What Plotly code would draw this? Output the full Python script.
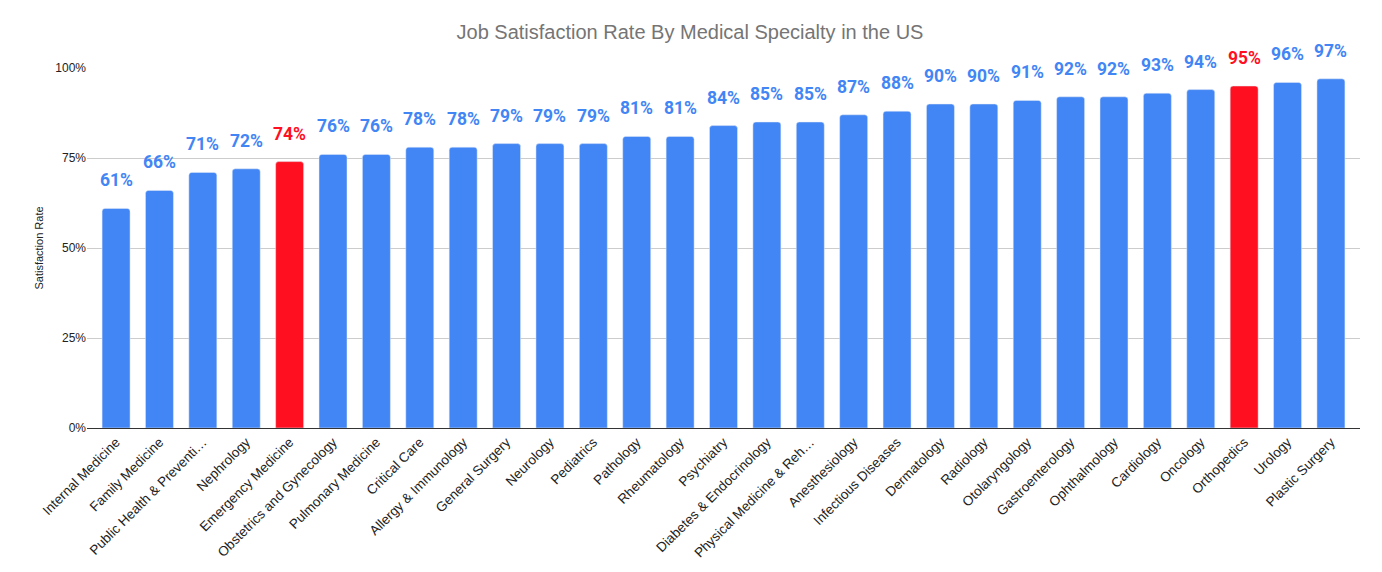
import plotly.graph_objects as go

specialties = ["Internal Medicine", "Family Medicine", "Public Health & Preventi…", "Nephrology",
               "Emergency Medicine", "Obstetrics and Gynecology", "Pulmonary Medicine", "Critical Care",
               "Allergy & Immunology", "General Surgery", "Neurology", "Pediatrics", "Pathology",
               "Rheumatology", "Psychiatry", "Diabetes & Endocrinology", "Physical Medicine & Reh…",
               "Anesthesiology", "Infectious Diseases", "Dermatology", "Radiology", "Otolaryngology",
               "Gastroenterology", "Ophthalmology", "Cardiology", "Oncology", "Orthopedics", "Urology",
               "Plastic Surgery"]
rates = [61, 66, 71, 72, 74, 76, 76, 78, 78, 79, 79, 79, 81, 81, 84, 85, 85, 87, 88, 90, 90, 91,
         92, 92, 93, 94, 95, 96, 97]
highlight = ["Emergency Medicine", "Orthopedics"]
y_ticks = [0, 25, 50, 75, 100]
y_tick_labels = ["0%", "25%", "50%", "75%", "100%"]

BLUE = "#4285F4"
RED = "#FF0F1F"
colors = [RED if s in highlight else BLUE for s in specialties]

fig = go.Figure(go.Bar(x=specialties, y=rates, marker=dict(color=colors, cornerradius=3),
                       hoverinfo="x+y"))

for s, r, c in zip(specialties, rates, colors):
    fig.add_annotation(x=s, y=r, text=f"{r}%", showarrow=False, yanchor="middle", yshift=28,
                       font=dict(family="Roboto", size=17.5, color=c, weight="bold"))

fig.update_layout(
    width=1374, height=564,
    margin=dict(l=79, r=22, t=60, b=140),
    plot_bgcolor="white", paper_bgcolor="white",
    bargap=0.355,
    showlegend=False,
    title=dict(text="Job Satisfaction Rate By Medical Specialty in the US", x=682 / 1374, xref="container",
               xanchor="center", y=1 - 24 / 564, yanchor="middle",
               font=dict(family="Liberation Sans, Arial", size=20, color="#757575")),
    font=dict(family="Liberation Sans, Arial", size=12, color="#222222"),
)
fig.update_xaxes(tickangle=-45, range=[-0.67, 28.67], showgrid=False, ticks="",
                 showline=True, linecolor="#333333", linewidth=1,
                 tickfont=dict(size=13.5, color="#222222"))
fig.update_yaxes(range=[0, 100], tickmode="array", tickvals=y_ticks, ticktext=y_tick_labels,
                 gridcolor="#cccccc", zeroline=False, ticks="",
                 title=dict(text="Satisfaction Rate", font=dict(size=11, color="#222222"), standoff=9),
                 tickfont=dict(size=12, color="#222222"))

fig.write_html("out.html")
